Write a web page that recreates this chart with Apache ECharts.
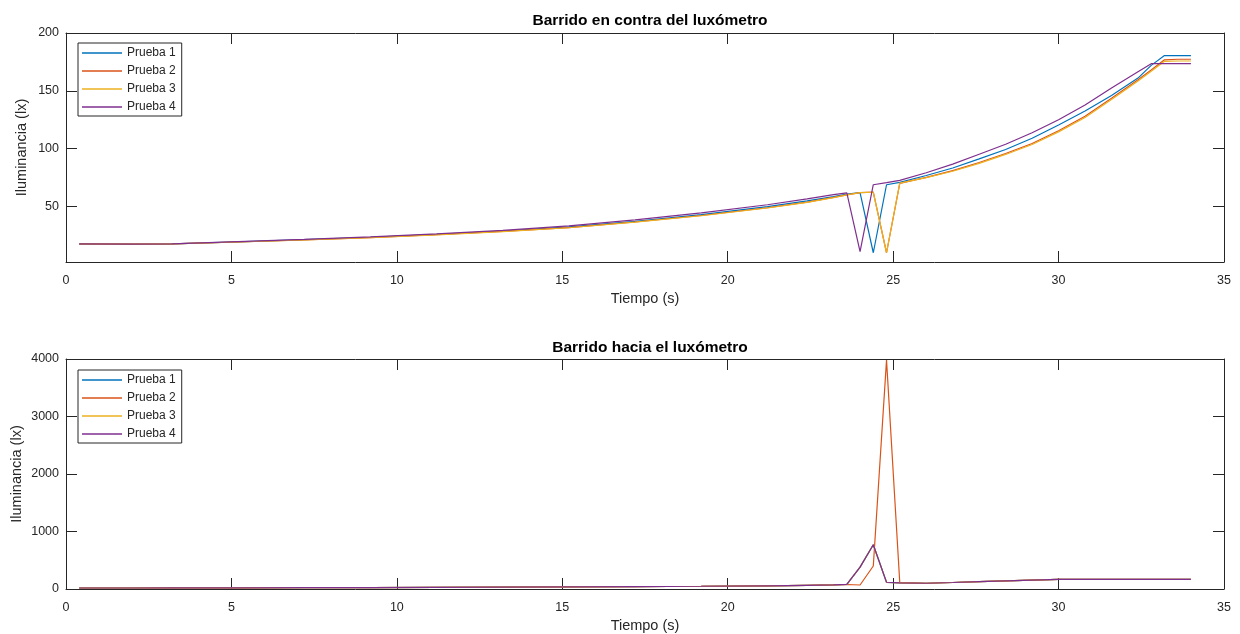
<!DOCTYPE html>
<html>
<head>
<meta charset="utf-8">
<script src="https://cdn.jsdelivr.net/npm/echarts@6/dist/echarts.min.js"></script>
<style>
html,body{margin:0;padding:0;background:#fff;}
#main{width:1240px;height:634px;}
</style>
</head>
<body>
<div id="main"></div>
<script>
// ---- data ----
const seriesNames = ['Prueba 1', 'Prueba 2', 'Prueba 3', 'Prueba 4'];
const times = [0.4, 2.0, 3.2, 5.2, 7.2, 9.2, 11.2, 13.2, 15.2, 17.2, 19.2, 21.2, 22.4, 23.2, 23.6, 24.0, 24.4, 24.8, 25.2, 26.0, 26.8, 27.6, 28.4, 29.2, 30.0, 30.8, 31.6, 32.4, 32.8, 33.2, 33.6, 34.0];

// Top: "Barrido en contra del luxómetro"
const topP1 = [17.5, 17.4, 17.6, 19.4, 21.3, 23.4, 25.9, 28.8, 32.3, 37.2, 43.0, 49.8, 54.8, 58.6, 60.8, 62.0, 10.0, 68.8, 70.8, 76.8, 83.3, 91.2, 99.3, 109.0, 120.5, 132.5, 146.0, 161.0, 172.0, 180.5, 180.5, 180.5];
const topP2 = [17.6, 17.5, 17.6, 19.3, 21.0, 23.1, 25.6, 28.4, 31.8, 36.6, 42.2, 48.9, 53.8, 57.8, 60.0, 62.0, 62.5, 10.0, 70.0, 75.2, 81.0, 88.0, 95.8, 104.5, 115.5, 128.0, 143.5, 159.5, 168.0, 176.8, 177.3, 177.3];
const topP3 = [17.6, 17.5, 17.6, 19.3, 21.0, 23.0, 25.5, 28.2, 31.6, 36.4, 42.0, 48.7, 53.6, 57.6, 60.0, 62.0, 62.3, 10.0, 70.2, 75.0, 80.5, 87.3, 95.0, 103.6, 114.5, 127.0, 142.5, 158.5, 167.0, 175.5, 175.8, 175.8];
const topP4 = [17.6, 17.5, 17.7, 19.6, 21.6, 23.8, 26.4, 29.4, 33.2, 38.4, 44.5, 51.5, 56.5, 60.2, 61.8, 11.0, 68.8, 70.6, 72.6, 79.2, 86.6, 95.2, 103.8, 113.8, 125.0, 137.8, 152.5, 166.5, 173.5, 173.6, 173.6, 173.6];

// Bottom: "Barrido hacia el luxómetro"
const botP1 = [17.5, 17.5, 18.0, 20.0, 22.5, 25.0, 28.0, 31.5, 36.0, 42.0, 48.0, 56.0, 64.0, 72.0, 80.0, 380, 770, 115, 105, 100, 113, 127, 141, 155, 169, 169, 169, 169, 169, 169, 169, 169];
const botP2 = [17.5, 17.5, 18.0, 20.0, 22.5, 25.0, 28.0, 31.5, 36.0, 42.0, 48.0, 56.0, 64.0, 72.0, 78.0, 70.0, 400, 3980, 112, 100, 113, 127, 141, 155, 169, 169, 169, 169, 169, 169, 169, 169];
const botP3 = [17.5, 17.5, 18.0, 20.0, 22.5, 25.0, 28.0, 31.5, 36.0, 42.0, 48.0, 56.0, 64.0, 72.0, 80.0, 380, 770, 115, 105, 100, 113, 127, 141, 155, 169, 169, 169, 169, 169, 169, 169, 169];
const botP4 = [17.5, 17.5, 18.0, 20.0, 22.5, 25.0, 28.0, 31.5, 36.0, 42.0, 48.0, 56.0, 64.0, 72.0, 80.0, 380, 770, 117, 105, 100, 113, 127, 141, 155, 169, 169, 169, 169, 169, 169, 169, 169];

const xTicks = [0, 5, 10, 15, 20, 25, 30, 35];
const topYTicks = [50, 100, 150, 200];
const botYTicks = [0, 1000, 2000, 3000, 4000];

const titles = ['Barrido en contra del luxómetro', 'Barrido hacia el luxómetro'];
const xName = 'Tiempo (s)';
const yName = 'Iluminancia (lx)';

// ---- styles ----
const colors = ['#0072BD', '#D95319', '#EDB120', '#7E2F8E'];
const axisColor = '#262626';
const FONT = '"Liberation Sans", Arial, Helvetica, sans-serif';

function zip(xs, ys) { return xs.map((x, i) => [x, ys[i]]); }
const plain = v => String(v);

const grids = [
  { left: 66, top: 33, width: 1158, height: 229, outerBoundsMode: 'none', containLabel: false },
  { left: 66, top: 359, width: 1158, height: 230, outerBoundsMode: 'none', containLabel: false }
];

function xAxesFor(gi) {
  const base = {
    type: 'value', gridIndex: gi, min: 0, max: 35, interval: 5,
    axisLine: { show: true, onZero: false, lineStyle: { color: axisColor, width: 1 } },
    axisTick: { show: true, inside: true, length: 11, lineStyle: { color: axisColor } },
    splitLine: { show: false }
  };
  return [
    Object.assign({}, base, {
      position: 'bottom',
      axisLabel: { show: true, color: axisColor, fontSize: 12.5, fontFamily: FONT, margin: 12,
        customValues: xTicks, formatter: plain },
      name: xName, nameLocation: 'middle', nameGap: 29, nameMoveOverlap: false,
      nameTextStyle: { color: axisColor, fontSize: 14.5, fontFamily: FONT }
    }),
    Object.assign({}, base, { position: 'top', axisLabel: { show: false } })
  ];
}

function yAxesFor(gi, min, max, ticks, nameGap) {
  const base = {
    type: 'value', gridIndex: gi, min: min, max: max,
    axisLine: { show: true, onZero: false, lineStyle: { color: axisColor, width: 1 } },
    axisTick: { show: true, inside: true, length: 11, lineStyle: { color: axisColor }, customValues: ticks },
    splitLine: { show: false }
  };
  return [
    Object.assign({}, base, {
      position: 'left',
      axisLabel: { show: true, color: axisColor, fontSize: 12.5, fontFamily: FONT, margin: 7,
        customValues: ticks, formatter: plain },
      name: yName, nameLocation: 'middle', nameGap: nameGap, nameRotate: 90, nameMoveOverlap: false,
      nameTextStyle: { color: axisColor, fontSize: 14.5, fontFamily: FONT }
    }),
    Object.assign({}, base, { position: 'right', axisLabel: { show: false } })
  ];
}

const xAxis = xAxesFor(0).concat(xAxesFor(1));
const yAxis = yAxesFor(0, 2, 200, topYTicks, 37).concat(yAxesFor(1, 0, 4000, botYTicks, 42));

const topData = [topP1, topP2, topP3, topP4];
const botData = [botP1, botP2, botP3, botP4];

const series = [];
topData.forEach((d, i) => series.push({
  name: seriesNames[i], type: 'line', xAxisIndex: 0, yAxisIndex: 0,
  data: zip(times, d), symbol: 'none', showSymbol: false, smooth: false,
  lineStyle: { color: colors[i], width: 1.2 }, itemStyle: { color: colors[i] },
  animation: false, silent: true
}));
botData.forEach((d, i) => series.push({
  name: seriesNames[i], type: 'line', xAxisIndex: 2, yAxisIndex: 2,
  data: zip(times, d), symbol: 'none', showSymbol: false, smooth: false,
  lineStyle: { color: colors[i], width: 1.2 }, itemStyle: { color: colors[i] },
  animation: false, silent: true
}));

function legendAt(top) {
  return {
    orient: 'vertical', left: 78, top: top,
    data: seriesNames.map(n => ({ name: n, icon: 'rect' })),
    itemWidth: 40, itemHeight: 1.5, itemGap: 4,
    padding: [3, 6, 2, 4],
    backgroundColor: '#fff',
    borderColor: axisColor, borderWidth: 1, borderRadius: 0,
    textStyle: { color: axisColor, fontSize: 12, fontFamily: FONT, lineHeight: 14 },
    selectedMode: false
  };
}

const option = {
  backgroundColor: '#fff',
  animation: false,
  color: colors,
  title: [
    { text: titles[0], left: 645, top: 8, textAlign: 'center',
      textStyle: { color: '#000', fontSize: 15.5, fontWeight: 'bold', fontFamily: FONT } },
    { text: titles[1], left: 645, top: 335, textAlign: 'center',
      textStyle: { color: '#000', fontSize: 15.5, fontWeight: 'bold', fontFamily: FONT } }
  ],
  legend: [legendAt(43), legendAt(370)],
  grid: grids,
  xAxis: xAxis,
  yAxis: yAxis,
  series: series
};

const chart = echarts.init(document.getElementById('main'), null, { renderer: 'canvas' });
chart.setOption(option);
</script>
</body>
</html>
